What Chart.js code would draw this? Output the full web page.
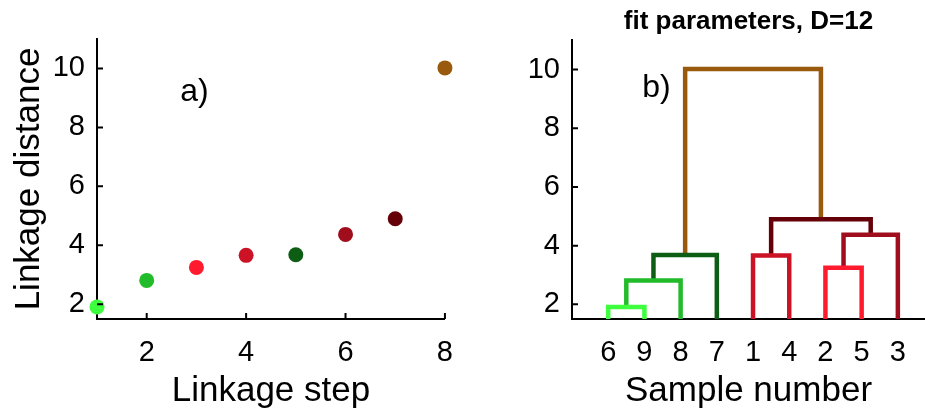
<!DOCTYPE html>
<html>
<head>
<meta charset="utf-8">
<script src="https://cdn.jsdelivr.net/npm/chart.js@4.4.1/dist/chart.umd.min.js"></script>
<style>
  body { margin: 0; background: #fff; }
  #wrap { position: relative; width: 925px; height: 414px; overflow: hidden; }
  canvas { position: absolute; top: 0; }
</style>
</head>
<body>
<div id="wrap">
  <canvas id="stepChart" width="470" height="414" style="left:0"></canvas>
  <canvas id="treeChart" width="455" height="414" style="left:470px"></canvas>
</div>
<script>
// linkage steps and their distances (panel a), also the merge heights of the tree (panel b)
const linkageSteps = [1, 2, 3, 4, 5, 6, 7, 8];
const linkageDistances = [1.91, 2.81, 3.25, 3.66, 3.68, 4.37, 4.90, 10.02];
const linkColors = ["#3dff3d", "#22bb2a", "#ff1a2e", "#cc1326", "#0d5e14", "#a00e1e", "#650008", "#995a0e"];

// merges, MATLAB style: leaves are 1..9, cluster k is 9 + k
const mergeLeft = [6, 10, 2, 1, 11, 12, 13, 14];
const mergeRight = [9, 8, 5, 4, 7, 3, 15, 16];
const leafOrder = [6, 9, 8, 7, 1, 4, 2, 5, 3];

const stepTicks = [2, 4, 6, 8];
const distanceTicks = [2, 4, 6, 8, 10];

const FONT = "'Liberation Sans', Arial, Helvetica, sans-serif";
Chart.defaults.font.family = FONT;
Chart.defaults.color = "#000";

const Y_MIN = 1.5, Y_MAX = 11;

// MATLAB-like ticks pointing into the plot, plus the panel letter
const inwardTicks = {
  id: "inwardTicks",
  afterDraw(chart, args, opts) {
    const { ctx, chartArea, scales } = chart;
    ctx.save();
    ctx.strokeStyle = "#000";
    ctx.lineWidth = 2;
    ctx.beginPath();
    if (opts.xTicks) {
      scales.x.ticks.forEach(t => {
        const px = scales.x.getPixelForValue(t.value);
        ctx.moveTo(px, chartArea.bottom);
        ctx.lineTo(px, chartArea.bottom - 6);
      });
    }
    scales.y.ticks.forEach(t => {
      const py = scales.y.getPixelForValue(t.value);
      ctx.moveTo(chartArea.left, py);
      ctx.lineTo(chartArea.left + 6, py);
    });
    ctx.stroke();
    if (opts.label) {
      ctx.font = "32px " + FONT;
      ctx.fillStyle = "#000";
      ctx.textAlign = "center";
      ctx.textBaseline = "middle";
      ctx.fillText(opts.label.text, scales.x.getPixelForValue(opts.label.x), scales.y.getPixelForValue(opts.label.y));
    }
    ctx.restore();
  }
};

function yAxis(width, titlePad) {
  return {
    min: Y_MIN,
    max: Y_MAX,
    afterBuildTicks: s => { s.ticks = distanceTicks.map(v => ({ value: v })); },
    afterFit: s => { s.width = width; },
    grid: { drawOnChartArea: false, drawTicks: false },
    border: { color: "#000", width: 2 },
    ticks: { padding: 12, font: { size: 29 } },
    title: { display: true, text: "Linkage distance", font: { size: 35 }, padding: { top: titlePad, bottom: 0 } }
  };
}

// panel a: scatter of distance per step
new Chart(document.getElementById("stepChart"), {
  type: "scatter",
  data: {
    datasets: [{
      data: linkageSteps.map((s, i) => ({ x: s, y: linkageDistances[i] })),
      backgroundColor: linkColors,
      borderWidth: 0,
      pointRadius: 7.5,
      clip: false
    }]
  },
  options: {
    responsive: false,
    animation: false,
    layout: { padding: { top: 39, right: 12, left: 0, bottom: 0 } },
    plugins: {
      legend: { display: false },
      tooltip: { enabled: false },
      inwardTicks: { xTicks: true, label: { text: "a)", x: 2.96, y: 9.2 } }
    },
    scales: {
      x: {
        type: "linear",
        min: 1,
        max: 8,
        afterBuildTicks: s => { s.ticks = stepTicks.map(v => ({ value: v })); },
        afterFit: s => { s.height = 95; },
        grid: { drawOnChartArea: false, drawTicks: false },
        border: { color: "#000", width: 2 },
        ticks: { padding: 17, font: { size: 29 } },
        title: { display: true, text: "Linkage step", font: { size: 35 }, padding: { top: 0, bottom: 2 } }
      },
      y: yAxis(97, 8)
    }
  },
  plugins: [inwardTicks]
});

// panel b: dendrogram built from the merge table
const nLeaves = leafOrder.length;
const nodeX = {}, nodeY = {};
leafOrder.forEach((leaf, i) => { nodeX[leaf] = i + 1; nodeY[leaf] = Y_MIN; });
const treeSets = mergeLeft.map((a, k) => {
  const b = mergeRight[k];
  const h = linkageDistances[k];
  const id = nLeaves + k + 1;
  nodeX[id] = (nodeX[a] + nodeX[b]) / 2;
  nodeY[id] = h;
  return {
    data: [
      { x: nodeX[a], y: nodeY[a] },
      { x: nodeX[a], y: h },
      { x: nodeX[b], y: h },
      { x: nodeX[b], y: nodeY[b] }
    ],
    showLine: true,
    borderColor: linkColors[k],
    borderWidth: 4.5,
    pointRadius: 0,
    borderJoinStyle: "miter",
    borderCapStyle: "butt"
  };
});

new Chart(document.getElementById("treeChart"), {
  type: "scatter",
  data: { datasets: treeSets },
  options: {
    responsive: false,
    animation: false,
    layout: { padding: { top: 0, right: 0, left: 0, bottom: 0 } },
    plugins: {
      legend: { display: false },
      tooltip: { enabled: false },
      title: {
        display: true,
        fullSize: false,
        text: "fit parameters, D=12",
        font: { size: 26, weight: "bold" },
        color: "#000",
        padding: { top: 6, bottom: 3 }
      },
      inwardTicks: { xTicks: false, label: { text: "b)", x: 2.33, y: 9.36 } }
    },
    scales: {
      x: {
        type: "linear",
        min: 0,
        max: 9.75,
        afterBuildTicks: s => { s.ticks = leafOrder.map((_, i) => ({ value: i + 1 })); },
        afterFit: s => { s.height = 95; },
        grid: { drawOnChartArea: false, drawTicks: false },
        border: { color: "#000", width: 2 },
        ticks: {
          padding: 17,
          font: { size: 29 },
          callback: v => leafOrder[v - 1]
        },
        title: { display: true, text: "Sample number", font: { size: 35 }, padding: { top: 0, bottom: 2 } }
      },
      y: Object.assign(yAxis(102, 8), { title: { display: false } })
    }
  },
  plugins: [inwardTicks]
});
</script>
</body>
</html>
